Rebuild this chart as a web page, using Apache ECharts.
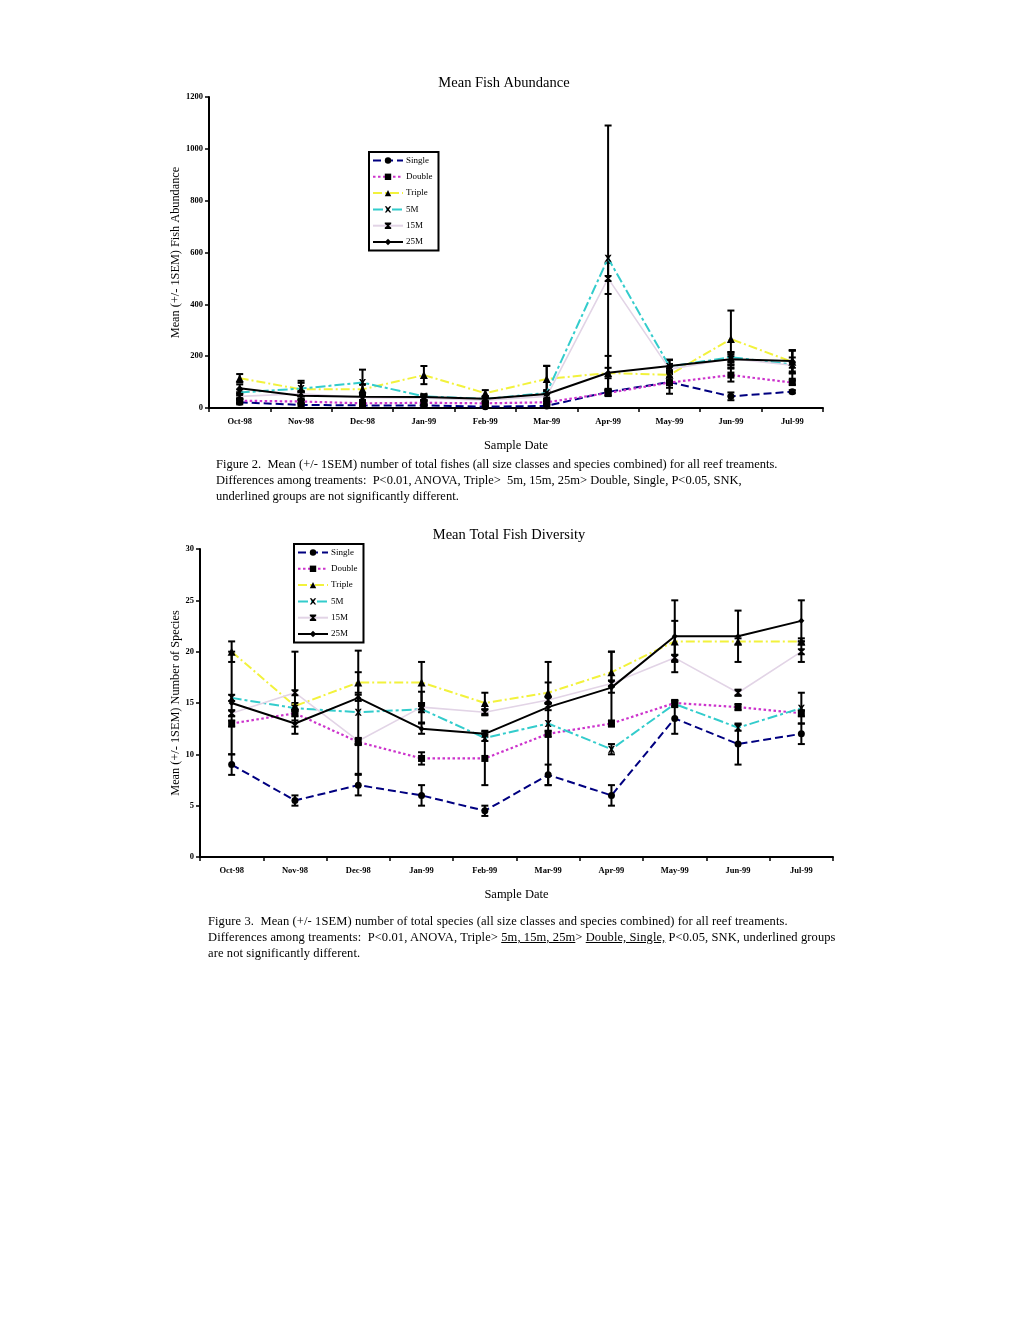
<!DOCTYPE html>
<html>
<head>
<meta charset="utf-8">
<script src="https://cdn.jsdelivr.net/npm/echarts@6/dist/echarts.min.js"></script>
<style>
html,body{margin:0;padding:0;background:#fff;}
#chart{position:absolute;left:0;top:0;width:1020px;height:1320px;}
.cap{position:absolute;font-family:"Liberation Serif","DejaVu Serif",serif;font-size:12.5px;line-height:16px;color:#000;white-space:nowrap;}
</style>
</head>
<body>
<div id="chart"></div>
<div class="cap" style="left:216px;top:456px;">Figure 2.&nbsp; Mean (+/- 1SEM) number of total fishes (all size classes and species combined) for all reef treaments.<br>Differences among treaments:&nbsp; P&lt;0.01, ANOVA, Triple&gt;&nbsp; 5m, 15m, 25m&gt; Double, Single, P&lt;0.05, SNK,<br>underlined groups are not significantly different.</div>
<div class="cap" style="left:208px;top:913px;letter-spacing:0.1px;">Figure 3.&nbsp; Mean (+/- 1SEM) number of total species (all size classes and species combined) for all reef treaments.<br>Differences among treaments:&nbsp; P&lt;0.01, ANOVA, Triple&gt; <u>5m, 15m, 25m</u>&gt; <u>Double, Single,</u> P&lt;0.05, SNK, underlined groups<br>are not significantly different.</div>
<script>
// ---- data ----
const months = ['Oct-98','Nov-98','Dec-98','Jan-99','Feb-99','Mar-99','Apr-99','May-99','Jun-99','Jul-99'];
const seriesNames = ['Single','Double','Triple','5M','15M','25M'];

// Figure 2: Mean fish abundance
const abSingle = [22, 12, 10, 10, 5, 8, 62, 100, 45, 63];
const abDouble = [28, 25, 18, 20, 18, 22, 58, 98, 127, 98];
const abTriple = [115, 72, 72, 127, 57, 112, 135, 128, 266, 178];
const ab5M     = [60, 75, 98, 45, 35, 58, 578, 160, 196, 168];
const ab15M    = [45, 55, 40, 38, 30, 45, 500, 150, 190, 165];
const ab25M    = [76, 47, 43, 42, 36, 54, 136, 162, 188, 181];
const abErrSingle = [8, 5, 5, 4, 3, 5, 12, 45, 15, 6];
const abErrDouble = [8, 6, 5, 5, 4, 6, 12, 20, 25, 8];
const abErrTriple = [16, 25, 20, 35, 12, 50, 20, 25, 110, 45];
const abErr5M     = [12, 30, 50, 8, 8, 105, 512, 25, 20, 55];
const abErr15M    = [10, 10, 10, 8, 6, 20, 60, 20, 25, 30];
const abErr25M    = [15, 15, 15, 10, 8, 15, 65, 25, 20, 40];

// Figure 3: Mean total fish diversity
const dvSingle = [9, 5.5, 7, 6, 4.5, 8, 6, 13.5, 11, 12];
const dvDouble = [13, 14, 11.2, 9.6, 9.6, 12, 13, 15, 14.6, 14];
const dvTriple = [20, 14.7, 17, 17, 15, 16, 18, 21, 21, 21];
const dv5M     = [15.5, 14.5, 14.1, 14.4, 11.6, 13, 10.5, 14.9, 12.6, 14.5];
const dv15M    = [14, 16, 11.3, 14.6, 14.1, 15.3, 16.9, 19.4, 16, 20];
const dv25M    = [15, 13, 15.5, 12.5, 12, 14.6, 16.5, 21.5, 21.5, 23];
const dvErrSingle = [1, 0.5, 1, 1, 0.5, 1, 1, 1.5, 2, 1];
const dvErrDouble = [0.3, 0.3, 0.3, 0.6, 2.6, 0.3, 0.3, 0.3, 0.3, 0.3];
const dvErrTriple = [1, 0.3, 1, 2, 1, 1, 2, 2, 0.3, 0.3];
const dvErr5M     = [0.3, 0.3, 6, 0.3, 0.3, 6, 0.5, 0.3, 0.3, 1.5];
const dvErr15M    = [0.3, 4, 0.3, 1.5, 0.3, 0.3, 0.3, 0.3, 0.3, 1];
const dvErr25M    = [5, 0.3, 0.3, 0.5, 0.3, 0.3, 3.5, 3.5, 2.5, 2];

const abTicks = [0, 200, 400, 600, 800, 1000, 1200];
const dvTicks = [0, 5, 10, 15, 20, 25, 30];

// ---- styles ----
const FONT = '"Liberation Serif","DejaVu Serif",serif';
const X_PATH = 'path://M0,0L2.5,0L5,3L7.5,0L10,0L6.5,5L10,10L7.5,10L5,7L2.5,10L0,10L3.5,5Z';
const STAR_PATH = 'path://M0,0H10V2.2L6.3,5L10,7.8V10H0V7.8L3.7,5L0,2.2Z';
const styles = {
  'Single': {color:'#000080', type:[8,4], width:2, symbol:'circle', size:7},
  'Double': {color:'#CC33CC', type:[2.5,2.5], width:2.2, symbol:'rect', size:7},
  'Triple': {color:'#F2F23C', type:[9,3,2,3], width:2, symbol:'triangle', size:8},
  '5M':     {color:'#33CCCC', type:[10,3,3,3], width:2, symbol:X_PATH, size:7},
  '15M':    {color:'#E2D4E6', type:'solid', width:1.6, symbol:STAR_PATH, size:7},
  '25M':    {color:'#000000', type:'solid', width:2, symbol:'diamond', size:6}
};

function lineSeries(name, data, idx){
  const s = styles[name];
  return {
    name: name, type:'line', xAxisIndex: idx, yAxisIndex: idx,
    data: data, symbol: s.symbol, symbolSize: s.size, showSymbol:true,
    lineStyle:{color:s.color, type:s.type, width:s.width},
    itemStyle:{color:'#000', borderWidth:0},
    emphasis:{disabled:true}, animation:false, z:3
  };
}
function errData(vals, errs){
  return vals.map((v,i)=>[i, Math.max(0, v-errs[i]), v+errs[i]]);
}
function errRender(params, api){
  const lo = api.coord([api.value(0), api.value(1)]);
  const hi = api.coord([api.value(0), api.value(2)]);
  const w = 3.5;
  const st = {stroke:'#000', lineWidth:2};
  return {type:'group', children:[
    {type:'line', shape:{x1:hi[0], y1:hi[1], x2:lo[0], y2:lo[1]}, style:st},
    {type:'line', shape:{x1:hi[0]-w, y1:hi[1], x2:hi[0]+w, y2:hi[1]}, style:st},
    {type:'line', shape:{x1:lo[0]-w, y1:lo[1], x2:lo[0]+w, y2:lo[1]}, style:st}
  ]};
}
function errSeries(vals, errs, idx){
  return {type:'custom', xAxisIndex:idx, yAxisIndex:idx, renderItem: errRender,
    data: errData(vals, errs), silent:true, animation:false, z:2};
}

const abVals = [abSingle, abDouble, abTriple, ab5M, ab15M, ab25M];
const abErrs = [abErrSingle, abErrDouble, abErrTriple, abErr5M, abErr15M, abErr25M];
const dvVals = [dvSingle, dvDouble, dvTriple, dv5M, dv15M, dv25M];
const dvErrs = [dvErrSingle, dvErrDouble, dvErrTriple, dvErr5M, dvErr15M, dvErr25M];

const series = [];
abVals.forEach((v,k)=>series.push(errSeries(v, abErrs[k], 0)));
dvVals.forEach((v,k)=>series.push(errSeries(v, dvErrs[k], 1)));
seriesNames.forEach((n,k)=>series.push(lineSeries(n, abVals[k], 0)));
seriesNames.forEach((n,k)=>series.push(lineSeries(n, dvVals[k], 1)));

function xAxisCfg(idx){
  return {
    type:'category', gridIndex: idx, data: months, boundaryGap:true,
    axisLine:{lineStyle:{color:'#000', width:2}},
    axisTick:{show:true, inside:false, length:4, lineStyle:{color:'#000', width:1.5}},
    axisLabel:{fontFamily:FONT, fontSize:8.5, fontWeight:'bold', color:'#000', margin:9},
    name:'Sample Date', nameLocation:'middle', nameGap: 31, nameMoveOverlap:false,
    nameTextStyle:{fontFamily:FONT, fontSize:12.5, color:'#000'}
  };
}
function yAxisCfg(idx, ticks, name, gap){
  return {
    type:'value', gridIndex: idx, min: ticks[0], max: ticks[ticks.length-1],
    interval: ticks[1]-ticks[0],
    axisLine:{show:true, lineStyle:{color:'#000', width:2}},
    axisTick:{show:true, inside:false, length:4, lineStyle:{color:'#000', width:1.5}},
    axisLabel:{fontFamily:FONT, fontSize:8.5, fontWeight:'bold', color:'#000', margin:6,
               formatter: v => String(v)},
    splitLine:{show:false},
    name: name, nameLocation:'middle', nameGap: gap, nameRotate: 90, nameMoveOverlap:false,
    nameTextStyle:{fontFamily:FONT, fontSize:12.3, color:'#000'}
  };
}
function legendCfg(left, top){
  return {
    data: seriesNames, orient:'vertical', left:left, top:top,
    itemWidth:30, itemHeight:8, itemGap:7.3, padding:[4,6,4,3],
    borderColor:'#000', borderWidth:2, backgroundColor:'#fff',
    textStyle:{fontFamily:FONT, fontSize:9, color:'#000', padding:[0,0,0,-2]},
    selectedMode:false, inactiveColor:'#000'
  };
}

const chart = echarts.init(document.getElementById('chart'), null, {renderer:'canvas'});
chart.setOption({
  animation:false,
  backgroundColor:'#fff',
  title:[
    {text:'Mean Fish Abundance', left:499, top:71, textAlign:'center',
     textStyle:{fontFamily:FONT, fontSize:14.5, fontWeight:'normal', color:'#000'}},
    {text:'Mean Total Fish Diversity', left:504, top:523, textAlign:'center',
     textStyle:{fontFamily:FONT, fontSize:14.5, fontWeight:'normal', color:'#000'}}
  ],
  legend:[legendCfg(369, 152), legendCfg(294, 544)],
  grid:[
    {left:209, top:97, width:614, height:311, containLabel:false},
    {left:200, top:549, width:633, height:308, containLabel:false}
  ],
  xAxis:[xAxisCfg(0), xAxisCfg(1)],
  yAxis:[
    yAxisCfg(0, abTicks, 'Mean (+/- 1SEM) Fish Abundance', 27),
    yAxisCfg(1, dvTicks, 'Mean (+/- 1SEM) Number of Species', 18)
  ],
  series: series
});
</script>
</body>
</html>
